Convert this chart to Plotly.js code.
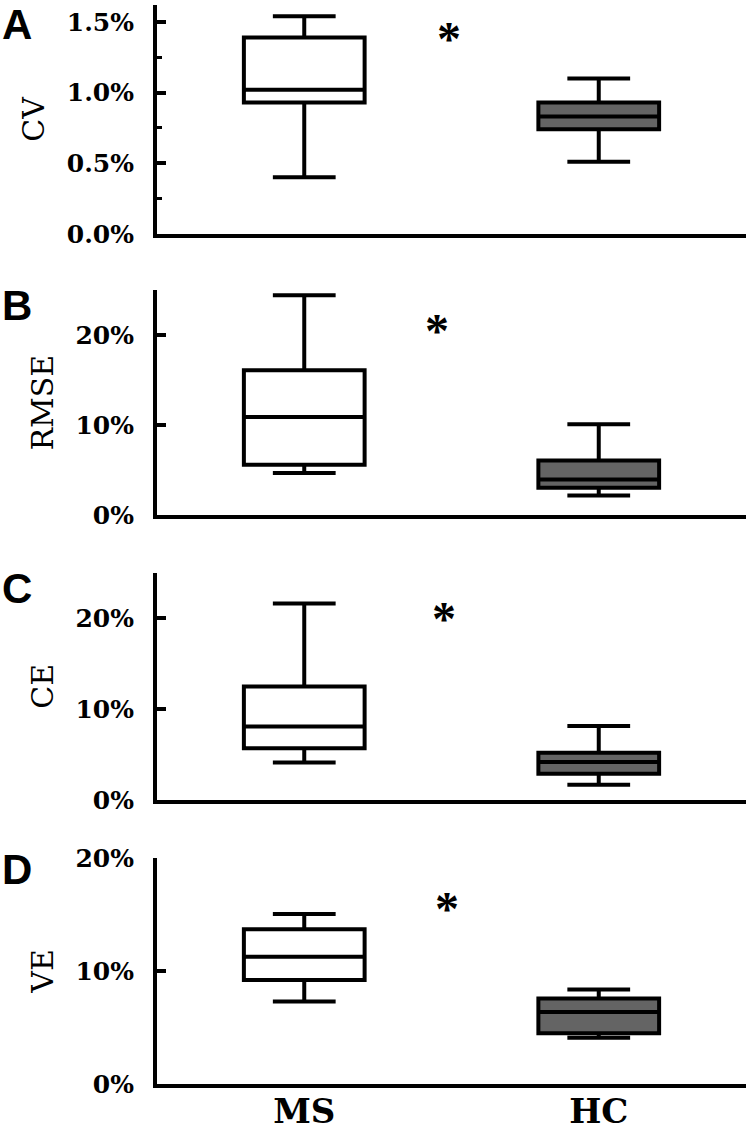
<!DOCTYPE html>
<html>
<head>
<meta charset="utf-8">
<script src="https://cdn.plot.ly/plotly-3.0.1.min.js"></script>
<style>
  body { margin: 0; background: white; }
  #chart { width: 750px; height: 1130px; }
</style>
</head>
<body>
<div id="chart"></div>
<script>
// groups on the x axis
let groups = ["MS", "HC"];

// one panel per measure
let measures = ["CV", "RMSE", "CE", "VE"];
let letters = ["A", "B", "C", "D"];

// box values, in %, one entry per measure
let msLow = [0.40, 4.7, 4.15, 7.3];
let msQ1 = [0.93, 5.6, 5.7, 9.2];
let msMedian = [1.02, 10.9, 8.1, 11.25];
let msQ3 = [1.39, 16.1, 12.5, 13.7];
let msHigh = [1.54, 24.4, 21.6, 15.05];

let hcLow = [0.51, 2.2, 1.7, 4.1];
let hcQ1 = [0.74, 3.06, 2.9, 4.5];
let hcMedian = [0.83, 3.98, 4.2, 6.37];
let hcQ3 = [0.93, 6.08, 5.2, 7.56];
let hcHigh = [1.10, 10.1, 8.15, 8.36];

// y axis ticks and their labels, range tops
let yTickVals = [[0, 0.5, 1.0, 1.5], [0, 10, 20], [0, 10, 20], [0, 10, 20]];
let yTickText = [["0.0%", "0.5%", "1.0%", "1.5%"], ["0%", "10%", "20%"], ["0%", "10%", "20%"], ["0%", "10%", "20%"]];
let yTops = [1.62, 25, 25, 20];

// where the significance star sits (x as category index, y in %)
let starX = [0.49, 0.45, 0.475, 0.485];
let starY = [1.42, 21, 20.5, 16];

// panel placement, top to bottom
let domains = [[0.788, 1.0], [0.527, 0.736], [0.263, 0.474], [0, 0.2095]];

let serif = "DejaVu Serif, serif";
let data = [];
let annotations = [];
let layout = {
    width: 750,
    height: 1130,
    margin: {l: 157, r: 4, t: 5, b: 46},
    showlegend: false,
    paper_bgcolor: "white",
    plot_bgcolor: "white"
};

for (let i = 0; i < measures.length; i++) {
    let n = i === 0 ? "" : String(i + 1);

    // white box for MS
    data.push({
        type: "box",
        x: [groups[0]],
        lowerfence: [msLow[i]],
        q1: [msQ1[i]],
        median: [msMedian[i]],
        q3: [msQ3[i]],
        upperfence: [msHigh[i]],
        xaxis: "x" + n,
        yaxis: "y" + n,
        width: 0.41,
        whiskerwidth: 0.52,
        fillcolor: "white",
        line: {color: "black", width: 4},
        boxpoints: false,
        hoverinfo: "skip"
    });

    // grey box for HC
    data.push({
        type: "box",
        x: [groups[1]],
        lowerfence: [hcLow[i]],
        q1: [hcQ1[i]],
        median: [hcMedian[i]],
        q3: [hcQ3[i]],
        upperfence: [hcHigh[i]],
        xaxis: "x" + n,
        yaxis: "y" + n,
        width: 0.41,
        whiskerwidth: 0.52,
        fillcolor: "#646464",
        line: {color: "black", width: 4},
        boxpoints: false,
        hoverinfo: "skip"
    });

    layout["xaxis" + n] = {
        anchor: "y" + n,
        type: "category",
        categoryarray: groups,
        range: [-0.5, 1.5],
        showline: true,
        linecolor: "black",
        linewidth: 4,
        ticks: "",
        showgrid: false,
        zeroline: false,
        showticklabels: i === measures.length - 1,
        ticklabelstandoff: -6,
        tickfont: {family: serif, size: 34, color: "black", weight: "bold"},
        fixedrange: true
    };

    let yaxis = {
        anchor: "x" + n,
        domain: domains[i],
        range: [0, yTops[i]],
        tickvals: yTickVals[i],
        ticktext: yTickText[i],
        ticks: "inside",
        ticklen: 9,
        tickwidth: 4,
        tickcolor: "black",
        ticklabelstandoff: 14,
        tickfont: {family: serif, size: 25, color: "black", weight: "bold"},
        showline: true,
        linecolor: "black",
        linewidth: 4,
        showgrid: false,
        zeroline: false,
        title: {
            text: measures[i],
            font: {family: serif, size: 30, color: "#000000"},
            standoff: 14
        },
        fixedrange: true
    };
    if (i === 0) {
        yaxis.minor = {dtick: 0.25, ticks: "inside", ticklen: 5, tickwidth: 3, tickcolor: "black"};
    }
    layout["yaxis" + n] = yaxis;

    // panel letter
    annotations.push({
        text: "<b>" + letters[i] + "</b>",
        xref: "x" + n + " domain",
        yref: "y" + n + " domain",
        x: -0.238,
        y: i === 0 ? 0.915 : (i === 3 ? 0.951 : 0.93),
        xanchor: "center",
        yanchor: "middle",
        showarrow: false,
        font: {family: "Liberation Sans, Arial, sans-serif", size: 42, color: "black"}
    });

    // significance star
    annotations.push({
        text: "<b>*</b>",
        xref: "x" + n,
        yref: "y" + n,
        x: starX[i],
        y: starY[i],
        yshift: -5,
        showarrow: false,
        font: {family: "Liberation Serif, serif", size: 48, color: "black"}
    });
}

layout.annotations = annotations;

Plotly.newPlot("chart", data, layout, {displayModeBar: false, staticPlot: true});
</script>
</body>
</html>
